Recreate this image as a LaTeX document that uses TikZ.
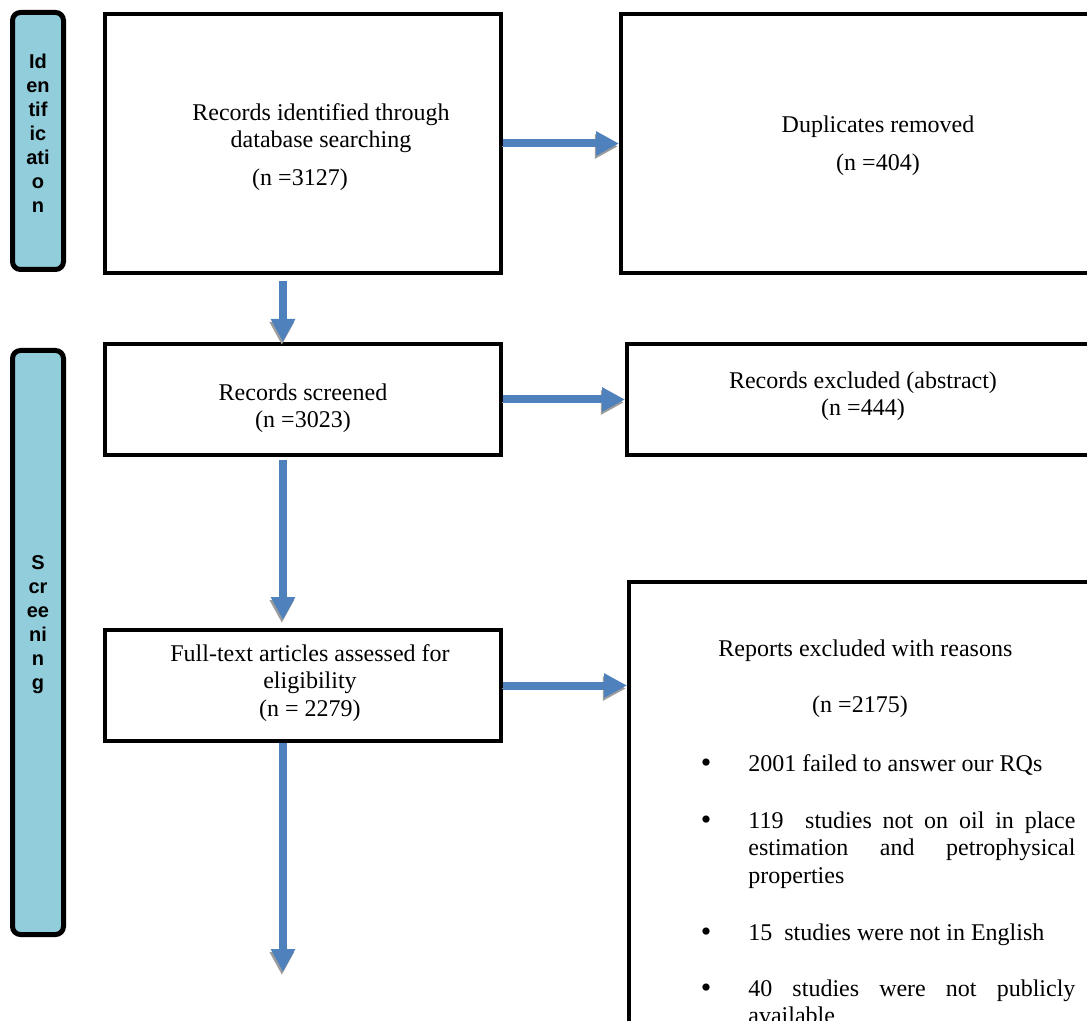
\documentclass[tikz,border=0pt]{standalone}
\usepackage{fontspec}
\setmainfont{Liberation Serif}
\newfontfamily\stagefont{Liberation Sans}
\usetikzlibrary{arrows.meta}

\definecolor{flowblue}{HTML}{4F81BD}
\definecolor{stagecyan}{HTML}{92CDDC}
\definecolor{shadowgray}{HTML}{9C9C9C}

\begin{document}
\begin{tikzpicture}[x=0.5pt, y=-0.5pt]

        % Styles
        \tikzstyle{box} = [draw, rectangle, line width=2pt, inner sep=0pt, anchor=north west]
        \tikzstyle{stage} = [draw, rectangle, rounded corners=4pt, line width=2.5pt, fill=stagecyan, inner sep=0pt, anchor=north west]
        \tikzstyle{txt} = [font=\fontsize{12}{13.8}\selectfont, align=center, inner sep=0pt]
        \tikzstyle{stagetxt} = [font=\stagefont\bfseries\fontsize{10}{12}\selectfont, align=center, inner sep=0pt]
        \tikzstyle{item} = [font=\fontsize{12}{13.8}\selectfont, text width=163.5pt, align=justify, inner sep=0pt, anchor=base west]
        \tikzstyle{arrow} = [line width=4pt, draw=flowblue, -{Triangle[width=11.5pt,length=11.5pt]},
            preaction={draw=shadowgray, transform canvas={xshift=-0.6pt,yshift=-1.5pt}}]

        \useasboundingbox (0,0) rectangle (1087,1021);
        \clip (0,0) rectangle (1087,1021);
        \fill[white] (0,0) rectangle (1087,1021);

        % Stage bars
        \node [stage, minimum width=25.5pt, minimum height=128.5pt] (identbar) at (10,10) {};
        \node [stagetxt] (identtxt) at (38,133) {Id\\en\\tif\\ic\\ati\\o\\n};
        \node [stage, minimum width=25.5pt, minimum height=292pt] (screenbar) at (10,348) {};
        \node [stagetxt] (screentxt) at (38,625) {S\\cr\\ee\\ni\\n\\g};

        % Boxes
        \node [box, minimum width=198pt, minimum height=129.5pt] (ident) at (103,12) {};
        \node [box, minimum width=239pt, minimum height=129.5pt] (dupl) at (619,12) {};
        \node [box, minimum width=198pt, minimum height=55.5pt] (screen) at (103,342) {};
        \node [box, minimum width=236pt, minimum height=55.5pt] (absexcl) at (625,342) {};
        \node [box, minimum width=198pt, minimum height=55.5pt] (fulltext) at (103,628) {};
        \node [box, minimum width=236pt, minimum height=300pt] (reports) at (627,580) {};

        % Texts
        \node [txt] (identa) at (321,128) {Records identified through\\database searching};
        \node [txt] (identn) at (300,180) {(n =3127)};
        \node [txt] (dupla) at (878,127) {Duplicates removed};
        \node [txt] (dupln) at (878,165) {(n =404)};
        \node [txt] (screena) at (303,392) {Records screened};
        \node [txt] (screenn) at (303,422) {(n =3023)};
        \node [txt] (absexcla) at (863,383) {Records excluded (abstract)};
        \node [txt] (absexcln) at (863,410) {(n =444)};
        \node [txt] (fulltexta) at (310,683) {Full-text articles assessed for\\eligibility\\(n = 2279)};
        \node [txt, anchor=west] (reportsa) at (718,651) {Reports excluded with reasons};
        \node [txt] (reportsn) at (860,707) {(n =2175)};

        % Reasons
        \node [item] (why1) at (748,771) {2001 failed to answer our RQs};
        \node [item] (why2) at (748,828) {119\ \ studies not on oil in place\linebreak estimation and petrophysical\linebreak properties};
        \node [item] (why3) at (748,940) {15\ \ studies were not in English};
        \node [item] (why4) at (748,996) {40 studies were not publicly\linebreak available};
        \foreach \w in {why1,why2,why3,why4}
            \node [font=\fontsize{15}{15}\selectfont, inner sep=0pt, anchor=base] (\w dot) at ([xshift=-21pt,yshift=-0.5pt]\w.base west) {\textbullet};

        % Arrows
        \draw [arrow] (ident.east) -- (dupl.west);
        \draw [arrow] (screen.east) -- (absexcl.west);
        \draw [arrow] (fulltext.east) -- (fulltext.east -| reports.west);
        \draw [arrow, shorten <=3pt] ([xshift=-10pt]ident.south) -- ([xshift=-10pt]screen.north);
        \draw [arrow, shorten <=1.5pt, shorten >=4pt] ([xshift=-10pt]screen.south) -- ([xshift=-10pt]fulltext.north);
        \coordinate (next) at (283,972);
        \draw [arrow] ([xshift=-10pt]fulltext.south) -- (next);

\end{tikzpicture}
\end{document}
